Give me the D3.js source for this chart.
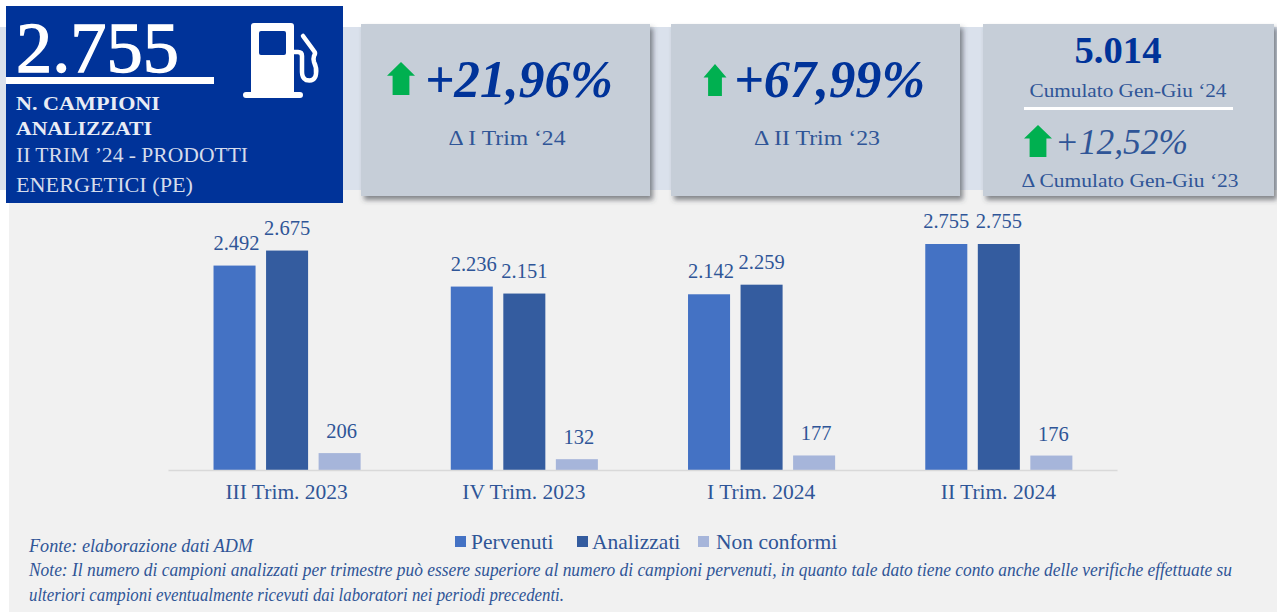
<!DOCTYPE html>
<html><head><meta charset="utf-8">
<script src="https://cdn.jsdelivr.net/npm/d3@7"></script>
<style>html,body{margin:0;padding:0;background:#fff}svg{display:block}text{font-family:"Liberation Serif",serif}</style>
</head><body><svg id="c" width="1277" height="612"></svg>
<script>
const categories=["III Trim. 2023","IV Trim. 2023","I Trim. 2024","II Trim. 2024"];
const seriesNames=["Pervenuti","Analizzati","Non conformi"];
const pervenuti=[2492,2236,2142,2755];
const analizzati=[2675,2151,2259,2755];
const nonConformi=[206,132,177,176];
const colors=["#4472c4","#345c9f","#a6b5da"];
const fmt=v=>String(v).replace(/\B(?=(\d{3})+$)/g,".");
const svg=d3.select("#c");
const defs=svg.append("defs");
const f=defs.append("filter").attr("id","sh").attr("x","-5%").attr("y","-5%").attr("width","115%").attr("height","115%");
f.append("feDropShadow").attr("dx",3).attr("dy",4).attr("stdDeviation",2.5).attr("flood-color","#3a4048").attr("flood-opacity",.6);
const blue="#003399", tc="#2f5597";
function R(x,y,w,h,fill,s){const r=svg.append("rect").attr("x",x).attr("y",y).attr("width",w).attr("height",h).attr("fill",fill);if(s)r.attr("filter","url(#sh)");return r;}
function T(x,y,t,size,fill,o={}){const e=svg.append("text").attr("x",x).attr("y",y).text(t).attr("font-size",size).attr("fill",fill).attr("text-anchor",o.a||"start");
 if(o.i)e.attr("font-style","italic");if(o.b)e.attr("font-weight","bold");if(o.w)e.attr("textLength",o.w).attr("lengthAdjust","spacingAndGlyphs");if(o.s)e.attr("stroke",fill).attr("stroke-width",o.s);return e;}
function arrow(x,y,w,h){const hw=w/2,hh=h*.42,sw=w*.3;
 svg.append("path").attr("fill","#00b050").attr("d",d3.line()([[x,y],[x+hw,y+hh],[x+sw,y+hh],[x+sw,y+h],[x-sw,y+h],[x-sw,y+hh],[x-hw,y+hh]])+"Z");}
// backgrounds
R(9,190,1268,422,"#f1f1f1");
R(0,27,1277,163,"#dae1ec");
// cards
R(361,24,289,172,"#c6ced8",true);
R(671,24,289,172,"#c6ced8",true);
R(983,24,291,172,"#c6ced8",true);
// blue panel
R(6,6,337,197,blue);
T(16,72,"2.755",72,"#fff",{w:163,s:1.3});
R(6,77,208,7,"#fff");
T(16,110,"N. CAMPIONI",18,"#e8ecf5",{b:1,w:144});
T(16,135,"ANALIZZATI",18,"#e8ecf5",{b:1,w:136});
T(16,162,"II TRIM ’24 - PRODOTTI",20,"#d5dcec",{w:232});
T(16,192,"ENERGETICI (PE)",20,"#d5dcec",{w:177});
// pump icon
svg.append("path").attr("fill","#fff").attr("fill-rule","evenodd").attr("d","M254 23h37q3 0 3 3v66h6q3 0 3 3t-3 3h-54q-3 0-3-3t3-3h5V26q0-3 3-3zM261 31q-2 0-2 2v20q0 2 2 2h23q2 0 2-2V33q0-2-2-2z");
svg.append("path").attr("fill","none").attr("stroke","#fff").attr("stroke-width",4.5).attr("stroke-linejoin","round").attr("stroke-linecap","round")
 .attr("d","M294 52h4q4 0 4 4v16q0 6 4 8q9 2 10-6q1-6-2-12q-1-3 0-6q2-3 0-5l-11-15");
// card 1
arrow(401,62,28,33);
T(425,97,"+21,96%",53,blue,{i:1,b:1,w:188});
T(507,145,"Δ I Trim ‘24",22,tc,{a:"middle",w:117});
// card 2
arrow(715,64,23,32);
T(734,97,"+67,99%",53,blue,{i:1,b:1,w:191});
T(817,145,"Δ II Trim ‘23",22,tc,{a:"middle",w:126});
// card 3
T(1118,63,"5.014",38,blue,{a:"middle",b:1,w:87});
T(1128,97,"Cumulato Gen-Giu ‘24",19,tc,{a:"middle",w:197});
R(1024,107,209,3,"#fff");
arrow(1038,125,28,32);
T(1055,154,"+12,52%",36,tc,{i:1,w:133});
T(1130,187,"Δ Cumulato Gen-Giu ‘23",19,tc,{a:"middle",w:217});
// chart
const x0=d3.scaleBand().domain(categories).range([168,1117]);
const x1=d3.scaleBand().domain(seriesNames).range([-73.1,74]).paddingInner(.2);
const y=d3.scaleLinear().domain([0,2755]).range([470,244]);
const series=[pervenuti,analizzati,nonConformi];
const g=svg.append("g");
series.forEach((vals,s)=>{
 const sel=g.selectAll(null).data(vals).enter();
 const cx=(d,i)=>x0(categories[i])+x0.bandwidth()/2+x1(seriesNames[s]);
 sel.append("rect").attr("x",cx).attr("y",d=>y(d)).attr("width",x1.bandwidth()).attr("height",d=>y(0)-y(d)).attr("fill",colors[s]);
 sel.append("text").attr("x",(d,i)=>cx(d,i)+x1.bandwidth()/2+(s==0&&i<3?2:s==2?2:0)).attr("y",d=>y(d)-(s==2?15:16)).attr("text-anchor","middle").attr("font-size",20.5).attr("fill",tc).text(fmt);
});
const ax=svg.append("g").attr("transform","translate(0,470)").call(d3.axisBottom(x0).tickSize(0).tickPadding(16));
ax.select(".domain").attr("stroke","#d9d9d9").attr("stroke-width",1.5);
ax.selectAll("text").attr("font-size",21.5).attr("fill",tc).style("font-family",'"Liberation Serif",serif').attr("dy",".6em");
// legend
const lx=[455,577,698],tx=[471,592,716];
seriesNames.forEach((n,i)=>{R(lx[i],536,11,11,colors[i]);T(tx[i],549,n,21.5,tc);});
// notes
T(29,552,"Fonte: elaborazione dati ADM",18,tc,{i:1,w:224});
T(29,576,"Note: Il numero di campioni analizzati per trimestre può essere superiore al numero di campioni pervenuti, in quanto tale dato tiene conto anche delle verifiche effettuate su",18,tc,{i:1,w:1203});
T(29,601,"ulteriori campioni eventualmente ricevuti dai laboratori nei periodi precedenti.",18,tc,{i:1,w:535});
</script></body></html>
